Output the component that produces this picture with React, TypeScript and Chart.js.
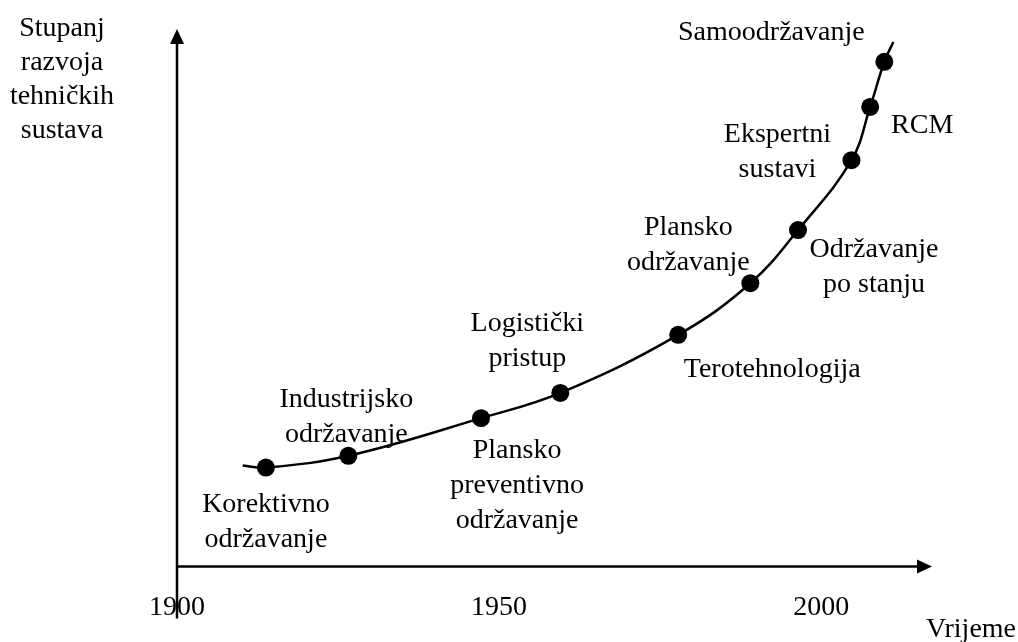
import React, { useEffect, useRef } from "react";
import { Chart, registerables } from "chart.js";

Chart.register(...registerables);

// ---- data ----
const stageYears = [1913.8, 1926.6, 1947.2, 1959.5, 1977.8, 1989.0, 1996.4, 2004.7, 2007.6, 2009.8];
const stageLevels = [18.4, 20.6, 27.6, 32.3, 43.1, 52.7, 62.6, 75.6, 85.5, 93.9];
const stageNames = [
  ["Korektivno", "održavanje"],
  ["Industrijsko", "održavanje"],
  ["Plansko", "preventivno", "održavanje"],
  ["Logistički", "pristup"],
  ["Terotehnologija"],
  ["Plansko", "održavanje"],
  ["Održavanje", "po stanju"],
  ["Ekspertni", "sustavi"],
  ["RCM"],
  ["Samoodržavanje"],
];
const curveYears = [1910.2, ...stageYears, 2011.2];
const curveLevels = [18.8, ...stageLevels, 97.6];
const xTicks = [1900, 1950, 2000];
const xAxisTitle = "Vrijeme";
const yAxisTitle = ["Stupanj", "razvoja", "tehničkih", "sustava"];

// ---- layout (label placement relative to each point, in px) ----
const labelOffsets = [
  [0, 44],
  [-2, -49],
  [36, 40],
  [-33, -62],
  [94, 42],
  [-62, -48],
  [76, 27],
  [-74, -18],
  [52, 26],
  [-113, -22],
];
const FONT = '28px "Liberation Serif", "Times New Roman", serif';
const LINE_H = 35;

const axesPlugin = {
  id: "customAxes",
  beforeDatasetsDraw(chart: any) {
    const { ctx, chartArea } = chart;
    const { left, right, top, bottom } = chartArea;
    ctx.save();
    ctx.strokeStyle = "#000";
    ctx.fillStyle = "#000";
    ctx.lineWidth = 2.5;
    // y axis
    ctx.beginPath();
    ctx.moveTo(left, bottom + 52);
    ctx.lineTo(left, top + 12);
    ctx.stroke();
    ctx.beginPath();
    ctx.moveTo(left, top);
    ctx.lineTo(left - 7, top + 15);
    ctx.lineTo(left + 7, top + 15);
    ctx.closePath();
    ctx.fill();
    // x axis
    ctx.beginPath();
    ctx.moveTo(left, bottom);
    ctx.lineTo(right - 12, bottom);
    ctx.stroke();
    ctx.beginPath();
    ctx.moveTo(right, bottom);
    ctx.lineTo(right - 15, bottom - 7);
    ctx.lineTo(right - 15, bottom + 7);
    ctx.closePath();
    ctx.fill();
    ctx.restore();
  },
  afterDraw(chart: any) {
    const { ctx, chartArea, scales } = chart;
    const xs = scales.x;
    const ys = scales.y;
    ctx.save();
    ctx.fillStyle = "#000";
    ctx.font = FONT;
    ctx.textAlign = "center";
    ctx.textBaseline = "alphabetic";
    // tick labels
    xTicks.forEach((t) => {
      ctx.fillText(String(t), xs.getPixelForValue(t), chartArea.bottom + 48.5);
    });
    // x title
    ctx.fillText(xAxisTitle, chartArea.right + 39, chartArea.bottom + 70.5);
    // y title
    yAxisTitle.forEach((line, i) => {
      ctx.fillText(line, 62, chartArea.top + 7 + i * 34);
    });
    // stage labels
    stageNames.forEach((lines, i) => {
      const px = xs.getPixelForValue(stageYears[i]);
      const py = ys.getPixelForValue(stageLevels[i]);
      const [dx, dy] = labelOffsets[i];
      lines.forEach((line, j) => {
        ctx.fillText(line, px + dx, py + dy + j * LINE_H);
      });
    });
    ctx.restore();
  },
};

export default function App() {
  const canvasRef = useRef<HTMLCanvasElement | null>(null);

  useEffect(() => {
    document.body.style.margin = "0";
    const canvas = canvasRef.current;
    if (!canvas) return;
    const chart = new Chart(canvas, {
      type: "line",
      data: {
        datasets: [
          {
            type: "line",
            data: curveYears.map((x, i) => ({ x, y: curveLevels[i] })),
            borderColor: "#000",
            borderWidth: 2.5,
            pointRadius: 0,
            tension: 0.4,
            fill: false,
          },
          {
            type: "scatter",
            data: stageYears.map((x, i) => ({ x, y: stageLevels[i] })),
            backgroundColor: "#000",
            borderColor: "#000",
            borderWidth: 0,
            pointRadius: 9,
            showLine: false,
          } as any,
        ],
      },
      options: {
        animation: false,
        responsive: false,
        devicePixelRatio: 1,
        layout: { padding: { left: 177, top: 29, right: 86, bottom: 75.5 } },
        plugins: { legend: { display: false }, tooltip: { enabled: false } },
        scales: {
          x: { type: "linear", min: 1900, max: 2017.2, display: false },
          y: { type: "linear", min: 0, max: 100, display: false },
        },
      } as any,
      plugins: [axesPlugin],
    });
    return () => chart.destroy();
  }, []);

  return (
    <div style={{ position: "absolute", left: 0, top: 0, width: 1018, height: 642, background: "#fff" }}>
      <canvas ref={canvasRef} width={1018} height={642} />
    </div>
  );
}
